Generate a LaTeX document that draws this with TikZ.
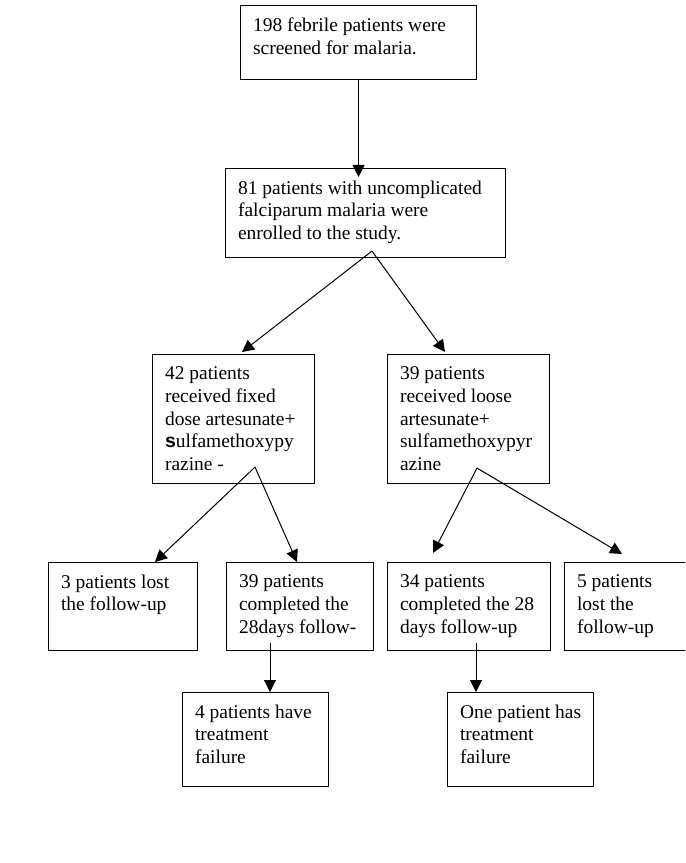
\documentclass[tikz,border=0pt]{standalone}
\usepackage{fontspec}
\setmainfont{Liberation Serif}
\newfontfamily\arialfont{Liberation Sans}
\usetikzlibrary{arrows.meta,calc}
\newlength\padx \setlength\padx{9.4pt}
\newlength\pady \setlength\pady{9.2pt}
\newcommand\bx[3]{\parbox[c][\dimexpr 0.75pt*#2\relax][t]{\dimexpr 0.75pt*#1\relax}{\fontsize{14.6}{17}\selectfont\leftskip=\padx\rightskip=0pt plus 1fil\parindent=0pt\parfillskip=0pt plus 1fil\vspace*{\pady}#3\par}}
\tikzset{
  box/.style={draw, line width=0.8pt, inner sep=0pt, anchor=north west},
  arr/.style={-{Triangle[length=9pt,width=9pt]}, line width=0.75pt}
}
\begin{document}
\begin{tikzpicture}[x=0.75pt,y=-0.75pt]
\clip (0,0) rectangle (685,863);
\node[box] (b1) at (240,5) {\bx{236}{74}{198 febrile patients were\\ screened for malaria.}};
\node[box] (b2) at (225,168) {\bx{280}{89}{81 patients with uncomplicated\\ falciparum malaria were\\ enrolled to the study.}};
\node[box] (b3) at (152,354) {\bx{162}{129}{42 patients\\ received fixed\\ dose artesunate+\\ {\arialfont\bfseries s}ulfamethoxypy\\ razine -}};
\node[box] (b4) at (387,354) {\bx{162}{129}{39 patients\\ received loose\\ artesunate+\\ sulfamethoxypyr\\ azine}};
\node[box] (b5) at (48,562) {\bx{149}{88}{3 patients lost\\ the follow-up}};
\node[box] (b6) at (226,562) {\bx{147}{88}{39 patients\\ completed the\\ 28days follow-}};
\node[box] (b7) at (387,562) {\bx{163}{88}{34 patients\\ completed the 28\\ days follow-up}};
\node[box] (b8) at (564,562) {\bx{160}{88}{5 patients\\ lost the\\ follow-up}};
\node[box] (b9) at (182,692) {\bx{146}{94}{4 patients have\\ treatment\\ failure}};
\node[box] (b10) at (447,692) {\bx{146}{94}{One patient has\\ treatment\\ failure}};

\coordinate (e2) at ($(b1.south |- b2.north)+(0,9)$);
\draw[arr] (b1.south) -- (e2);
\coordinate (a2) at ($(b2.south west)+(147,-7)$);
\draw[arr] (a2) -- ($(b3.north west)+(90,-2)$);
\draw[arr] (a2) -- ($(b4.north west)+(58,-2)$);
\coordinate (a3) at ($(b3.south west)+(103,-17)$);
\draw[arr] (a3) -- ($(b5.north west)+(107,0)$);
\draw[arr] (a3) -- ($(b6.north west)+(71,0)$);
\coordinate (a4) at ($(b4.south west)+(90,-16)$);
\draw[arr] (a4) -- ($(b7.north west)+(46,-9)$);
\draw[arr] (a4) -- ($(b8.north west)+(58,-8)$);
\coordinate (a6) at ($(b6.south west)+(44,-8)$);
\draw[arr] (a6) -- (a6 |- b9.north);
\coordinate (a7) at ($(b7.south west)+(89,-8)$);
\draw[arr] (a7) -- (a7 |- b10.north);
\end{tikzpicture}
\end{document}
